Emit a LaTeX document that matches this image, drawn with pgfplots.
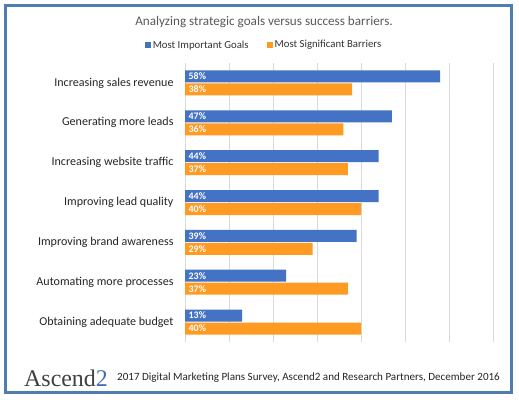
\documentclass[border=0pt]{standalone}
\usepackage{pgfplots}
\pgfplotsset{compat=1.18}
\usepackage{fontspec}
\setmainfont{Carlito}
\newfontfamily\serifont{Liberation Serif}
\definecolor{goalblue}{HTML}{4472C4}
\definecolor{barorange}{HTML}{FF9A22}
\definecolor{framec}{HTML}{4F7DAE}
\definecolor{titlegray}{HTML}{595959}
\definecolor{logoblue}{HTML}{3E6FB5}
\begin{document}
\begin{tikzpicture}[x=1bp,y=1bp]
\fill[white] (0,0) rectangle (519,399);
\draw[line width=3bp, color=framec] (5.5,7) rectangle (511,393.5);
\node[font=\fontsize{13.2}{15}\selectfont, text=titlegray] at (264,377) {Analyzing strategic goals versus success barriers.};
\begin{axis}[
  at={(185bp,57bp)}, anchor=south west,
  scale only axis, width=308bp, height=279bp,
  xmin=0, xmax=70, ymin=-0.5, ymax=6.5, y dir=reverse,
  xbar, bar width=12bp,
  /pgf/number format/assume math mode=true,
  xtick={0,10,...,70}, xticklabels={}, xmajorgrids,
  major grid style={draw=black!15, line width=0.6bp},
  ytick={0,...,6},
  yticklabels={Increasing sales revenue, Generating more leads, Increasing website traffic, Improving lead quality, Improving brand awareness, Automating more processes, Obtaining adequate budget},
  y tick label style={font=\fontsize{12.1}{14}\selectfont, text=black!85, xshift=-8bp},
  major tick length=0pt,
  axis line style={draw=none},
  point meta=x,
  visualization depends on={x \as \rawx},
  nodes near coords={\pgfmathprintnumber{\pgfplotspointmeta}\%},
  every node near coord/.append style={anchor=west, shift={(axis direction cs:-\rawx,0)}, xshift=1.5bp, font=\bfseries\fontsize{10}{10}\selectfont, text=white, inner sep=2pt},
  legend style={at={(axis description cs:0.2565,1.0645)}, anchor=center, draw=none, fill=none, legend columns=2, font=\fontsize{10.8}{12}\selectfont, text=black!80, /tikz/every even column/.append style={column sep=16bp}},
  legend cell align=left,
]
\addplot[fill=goalblue, draw=none, bar shift=6.5bp, legend image code/.code={\fill[goalblue] (0bp,-3bp) rectangle (6bp,3bp);}] coordinates {(58,0) (47,1) (44,2) (44,3) (39,4) (23,5) (13,6)};
\addplot[fill=barorange, draw=none, bar shift=-6.5bp, legend image code/.code={\fill[barorange] (0bp,-3bp) rectangle (6bp,3bp);}] coordinates {(38,0) (36,1) (37,2) (40,3) (29,4) (37,5) (40,6)};
\legend{Most Important Goals, Most Significant Barriers}
\end{axis}
\node[anchor=west, font=\serifont\fontsize{24}{26}\selectfont, text=black!75, inner sep=0pt] at (24,21) {Ascend\textcolor{logoblue}{2}};
\node[anchor=west, font=\fontsize{11.1}{12}\selectfont, text=black!85, inner sep=0pt] at (117,21) {2017 Digital Marketing Plans Survey, Ascend2 and Research Partners, December 2016};
\end{tikzpicture}
\end{document}
